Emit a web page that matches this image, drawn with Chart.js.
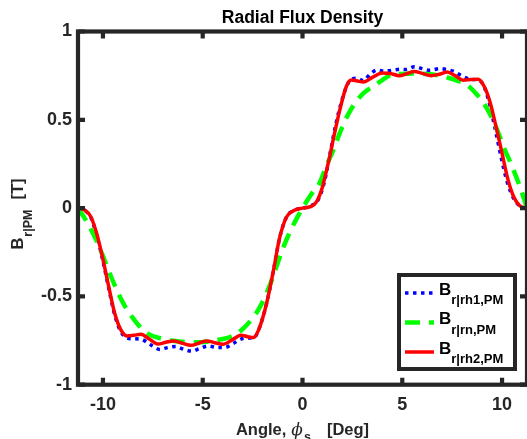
<!DOCTYPE html>
<html>
<head>
<meta charset="utf-8">
<script src="https://cdn.jsdelivr.net/npm/chart.js@4.4.1/dist/chart.umd.min.js"></script>
<style>
  html, body { margin: 0; padding: 0; background: #fff; }
  canvas { display: block; }
</style>
</head>
<body>
<canvas id="chart" width="527" height="439"></canvas>
<script>
const xTicks = [-10, -5, 0, 5, 10];
const yTicks = [-1, -0.5, 0, 0.5, 1];

// B r|rh1,PM  (blue dotted)
const angleRh1 = [-11.25, -10.9, -10.6, -10.3, -10.0, -9.7, -9.4, -9.1, -8.8, -8.45,
  -8.1, -7.6, -7.15, -6.75, -6.35, -5.95, -5.55, -5.15, -4.7, -4.3,
  -3.9, -3.45, -3.05, -2.7, -2.45, -2.2, -1.8, -1.45, -1.15, -0.8,
  -0.4, 0, 0.4, 0.8, 1.1, 1.4, 1.7, 2.0, 2.25, 2.45,
  2.75, 3.05, 3.4, 3.75, 4.1, 4.45, 4.9, 5.2, 5.6, 6.0,
  6.35, 6.9, 7.2, 7.55, 8.05, 8.4, 8.75, 9.05, 9.35, 9.65,
  9.95, 10.25, 10.6, 10.9, 11.25];
const fluxRh1 = [0, -0.015, -0.055, -0.16, -0.30, -0.46, -0.61, -0.70, -0.735, -0.74,
  -0.742, -0.775, -0.80, -0.79, -0.784, -0.80, -0.81, -0.795, -0.78, -0.79,
  -0.79, -0.765, -0.74, -0.735, -0.735, -0.69, -0.54, -0.35, -0.17, -0.05,
  -0.012, 0, 0.012, 0.05, 0.15, 0.32, 0.49, 0.62, 0.70, 0.73,
  0.735, 0.722, 0.76, 0.782, 0.775, 0.78, 0.786, 0.785, 0.80, 0.79,
  0.78, 0.79, 0.785, 0.775, 0.745, 0.73, 0.726, 0.70, 0.60, 0.45,
  0.29, 0.15, 0.05, 0.012, 0];

// B r|rn,PM  (green dashed)
const angleRn = [-11.25, -10.85, -10.3, -9.9, -9.55, -9.2, -8.9, -8.45, -8.0, -7.6,
  -7.2, -6.6, -6.0, -5.4, -4.8, -4.2, -3.75, -3.35, -2.95, -2.55,
  -2.15, -1.65, -1.3, -1.0, -0.75, -0.48, -0.2, 0, 0.45, 0.85,
  1.2, 1.55, 1.85, 2.15, 2.6, 3.05, 3.55, 4.0, 4.4, 5.0,
  5.6, 6.2, 6.8, 7.3, 7.75, 8.2, 8.65, 9.1, 9.45, 9.8,
  10.1, 10.45, 10.9, 11.25];
const fluxRn = [0, -0.07, -0.19, -0.30, -0.40, -0.49, -0.555, -0.63, -0.69, -0.72,
  -0.735, -0.75, -0.757, -0.76, -0.757, -0.745, -0.735, -0.715, -0.68, -0.63,
  -0.564, -0.44, -0.33, -0.234, -0.165, -0.10, -0.04, 0, 0.08, 0.14,
  0.24, 0.33, 0.42, 0.50, 0.59, 0.65, 0.69, 0.725, 0.752, 0.76,
  0.762, 0.76, 0.752, 0.738, 0.722, 0.70, 0.655, 0.59, 0.52, 0.43,
  0.34, 0.25, 0.12, 0];

// B r|rh2,PM  (red solid)
const angleRh2 = [-11.25, -10.9, -10.6, -10.3, -10.0, -9.7, -9.4, -9.1, -8.8, -8.45,
  -8.1, -7.7, -7.25, -6.85, -6.45, -6.0, -5.6, -5.2, -4.8, -4.4,
  -4.0, -3.5, -3.1, -2.75, -2.45, -2.2, -1.8, -1.45, -1.15, -0.8,
  -0.4, 0, 0.4, 0.7, 1.0, 1.3, 1.6, 1.9, 2.2, 2.45,
  2.75, 3.05, 3.5, 4.0, 4.4, 4.85, 5.2, 5.6, 6.0, 6.45,
  6.85, 7.25, 7.65, 8.05, 8.45, 8.8, 9.1, 9.4, 9.7, 10.0,
  10.3, 10.6, 10.9, 11.25];
const fluxRh2 = [0, -0.012, -0.05, -0.15, -0.29, -0.45, -0.60, -0.69, -0.724, -0.72,
  -0.715, -0.74, -0.77, -0.76, -0.752, -0.766, -0.777, -0.765, -0.752, -0.762,
  -0.771, -0.745, -0.72, -0.728, -0.733, -0.69, -0.54, -0.35, -0.17, -0.05,
  -0.012, 0, 0.008, 0.035, 0.12, 0.26, 0.42, 0.57, 0.69, 0.726,
  0.72, 0.714, 0.74, 0.765, 0.762, 0.75, 0.76, 0.773, 0.763, 0.75,
  0.758, 0.77, 0.75, 0.724, 0.728, 0.73, 0.69, 0.60, 0.46, 0.31,
  0.16, 0.06, 0.012, 0];

const legendSubs = ["r|rh1,PM", "r|rn,PM", "r|rh2,PM"];

const FONT = '"Liberation Sans", Arial, Helvetica, sans-serif';
const INK = "#262626";

function pts(xs, ys) {
  return xs.map((x, i) => ({x: x, y: ys[i]}));
}

// draw a row of text pieces (main text + subscripts), returns total width
function textRun(ctx, x, y, items, measureOnly) {
  let cx = x;
  items.forEach(it => {
    ctx.font = it.font;
    cx += it.gap || 0;
    if (!measureOnly) ctx.fillText(it.text, cx, y + (it.dy || 0));
    cx += ctx.measureText(it.text).width;
  });
  return cx - x;
}

const framePlugin = {
  id: "frame",
  afterDatasetsDraw(chart) {
    const {ctx, chartArea: a} = chart;
    const xs = chart.scales.x, ys = chart.scales.y;
    ctx.save();
    ctx.strokeStyle = INK;
    ctx.lineWidth = 4.2;
    ctx.beginPath();
    xTicks.forEach(v => {
      const px = xs.getPixelForValue(v);
      ctx.moveTo(px, a.top); ctx.lineTo(px, a.top + 7);
      ctx.moveTo(px, a.bottom); ctx.lineTo(px, a.bottom - 7);
    });
    yTicks.forEach(v => {
      const py = ys.getPixelForValue(v);
      ctx.moveTo(a.left, py); ctx.lineTo(a.left + 7, py);
      ctx.moveTo(a.right, py); ctx.lineTo(a.right - 7, py);
    });
    ctx.stroke();
    ctx.strokeRect(a.left, a.top, a.right - a.left, a.bottom - a.top);
    ctx.restore();
  }
};

const labelPlugin = {
  id: "labels",
  afterDraw(chart) {
    const ctx = chart.ctx;
    ctx.save();
    ctx.fillStyle = INK;
    ctx.textBaseline = "alphabetic";
    ctx.textAlign = "left";

    // y axis title: B_{r|PM} [T]
    const yItems = [
      {text: "B", font: "bold 16.5px " + FONT},
      {text: "r|PM", font: "bold 12.5px " + FONT, dy: 9, gap: 1},
      {text: "[T]", font: "bold 16.5px " + FONT, gap: 10}
    ];
    ctx.save();
    ctx.translate(22.5, 214);
    ctx.rotate(-Math.PI / 2);
    const wy = textRun(ctx, 0, 0, yItems, true);
    textRun(ctx, -wy / 2, 0, yItems);
    ctx.restore();

    // x axis title: Angle, phi_s [Deg]
    const xItems = [
      {text: "Angle,", font: "bold 16.5px " + FONT},
      {text: "\u03D5", font: "italic 17px \"DejaVu Serif\", \"Liberation Serif\", serif", gap: 5},
      {text: "s", font: "bold 12.5px " + FONT, dy: 6, gap: 1},
      {text: "[Deg]", font: "bold 16.5px " + FONT, gap: 16}
    ];
    const wx = textRun(ctx, 0, 0, xItems, true);
    const cxMid = (chart.chartArea.left + chart.chartArea.right) / 2;
    textRun(ctx, cxMid - wx / 2, 435, xItems);

    // legend box
    const bx = 399, by = 275, bw = 116, bh = 94;
    ctx.fillStyle = "#fff";
    ctx.fillRect(bx, by, bw, bh);
    ctx.strokeStyle = INK;
    ctx.lineWidth = 4;
    ctx.strokeRect(bx, by, bw, bh);
    const rows = [293, 322.5, 352];
    chart.data.datasets.forEach((ds, i) => {
      const ry = rows[i];
      ctx.save();
      ctx.strokeStyle = ds.borderColor;
      ctx.lineWidth = ds.borderWidth;
      ctx.setLineDash(ds.borderDash || []);
      ctx.beginPath();
      ctx.moveTo(405, ry);
      ctx.lineTo(434, ry);
      ctx.stroke();
      ctx.restore();
      ctx.fillStyle = "#000";
      textRun(ctx, 439, ry + 1.5, [
        {text: "B", font: "bold 17px " + FONT},
        {text: legendSubs[i], font: "bold 13px " + FONT, dy: 9.5}
      ]);
    });
    ctx.restore();
  }
};

const ctx = document.getElementById("chart").getContext("2d");
const chart = new Chart(ctx, {
  type: "line",
  data: {
    datasets: [
      { label: "B r|rh1,PM", data: pts(angleRh1, fluxRh1), borderColor: "#0000ff", borderWidth: 3.5,
        borderDash: [3.5, 4.5], pointRadius: 0, fill: false, cubicInterpolationMode: "monotone", order: 3 },
      { label: "B r|rn,PM", data: pts(angleRn, fluxRn), borderColor: "#00ff00", borderWidth: 4.5,
        borderDash: [15, 9], pointRadius: 0, fill: false, cubicInterpolationMode: "monotone", order: 2 },
      { label: "B r|rh2,PM", data: pts(angleRh2, fluxRh2), borderColor: "#ff0000", borderWidth: 3.5,
        pointRadius: 0, fill: false, cubicInterpolationMode: "monotone", order: 1 }
    ]
  },
  options: {
    responsive: false,
    animation: false,
    devicePixelRatio: 1,
    layout: { padding: 0 },
    scales: {
      x: {
        type: "linear", min: -11.25, max: 11.25,
        grid: { display: false, drawTicks: false }, border: { display: false },
        ticks: { color: INK, padding: 9.5, font: { family: FONT, size: 18, weight: "bold" },
          callback: v => String(v) },
        afterBuildTicks: s => { s.ticks = xTicks.map(v => ({value: v})); },
        afterFit: s => { s.height = 54.3; }
      },
      y: {
        min: -1, max: 1,
        grid: { display: false, drawTicks: false }, border: { display: false },
        ticks: { color: INK, padding: 6, font: { family: FONT, size: 18, weight: "bold" },
          callback: v => String(v) },
        afterBuildTicks: s => { s.ticks = yTicks.map(v => ({value: v})); },
        afterFit: s => { s.width = 78; }
      }
    },
    plugins: {
      legend: { display: false },
      tooltip: { enabled: false },
      title: {
        display: true, text: "Radial Flux Density", fullSize: false, color: "#000",
        font: { family: FONT, size: 17.5, weight: "bold", lineHeight: 1.2 },
        padding: { top: 8, bottom: 2.5 }
      }
    }
  },
  plugins: [framePlugin, labelPlugin]
});
</script>
</body>
</html>
